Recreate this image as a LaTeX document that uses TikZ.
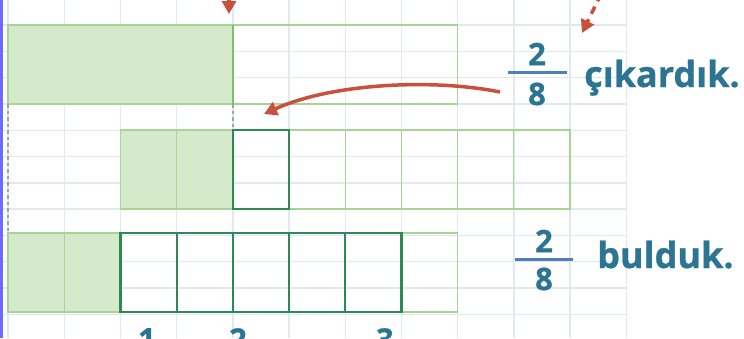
\documentclass[tikz,border=0pt]{standalone}
\usepackage{fontspec}
\setmainfont{Open Sans}[BoldFeatures={FakeBold=0.8}]
\usetikzlibrary{arrows.meta}
\definecolor{gridc}{HTML}{DFE9F2}
\definecolor{shade}{HTML}{D5EACB}
\definecolor{lgreen}{HTML}{A6D495}
\definecolor{mgreen}{HTML}{7CBF6C}
\definecolor{dgreen}{HTML}{2E8A55}
\definecolor{redc}{HTML}{C9503A}
\definecolor{tealc}{HTML}{2B7592}
\definecolor{barc}{HTML}{4F7FBF}
\definecolor{edgec}{HTML}{6B6BFF}
\definecolor{guidec}{HTML}{9AA89A}
\tikzset{
  cell/.style={draw=lgreen, line width=1.2pt, minimum width=56.2pt, minimum height=79pt,
    inner sep=0pt, outer sep=0pt, anchor=north west},
  halfbar/.style={cell, minimum width=224.8pt},
  shaded/.style={fill=shade},
  strong/.style={draw=dgreen, line width=2.2pt},
  guide/.style={draw=guidec, line width=2.2pt, dash pattern=on 3.5pt off 3pt},
  redarrow/.style={draw=redc, line width=3.5pt, -{Triangle[length=13pt,width=14pt]}},
  txt/.style={text=tealc, font=\fontsize{31}{31}\selectfont\bfseries, inner sep=0pt},
  word/.style={txt, font=\fontsize{36}{36}\selectfont\bfseries, anchor=base west},
  fracbar/.style={draw=barc, line width=3pt}
}
\begin{document}
\begin{tikzpicture}[x=1pt,y=-1pt]
\useasboundingbox (0,0) rectangle (744,338);
\clip (0,0) rectangle (744,338);
% grid
\foreach \i in {0,...,11} \draw[gridc, line width=1.4pt] ({8+56.2*\i},0) -- ({8+56.2*\i},338);
\foreach \j in {-1,...,12} \draw[gridc, line width=1.4pt] (3,{25+26.3*\j}) -- (626,{25+26.3*\j});
% left edge
\draw[edgec, line width=3pt] (1,0) -- (1,338);
% top bar
\node[halfbar, shaded] (tl) at (8,25) {};
\node[halfbar] (tr) at (232.8,25) {};
\draw[mgreen, line width=1.5pt] (tl.north east) -- (tl.south east);
% middle bar
\foreach \k in {0,1} \node[cell, shaded] (m\k) at ({120.4+56.2*\k},130) {};
\foreach \k in {3,...,7} \node[cell] (m\k) at ({120.4+56.2*\k},130) {};
\node[cell, strong] (m2) at ({120.4+56.2*2},130) {};
% bottom bar
\foreach \k in {0,1} \node[cell, shaded] (b\k) at ({8+56.2*\k},233) {};
\node[cell] (b7) at ({8+56.2*7},233) {};
\foreach \k in {2,...,6} \node[cell, strong] (b\k) at ({8+56.2*\k},233) {};
% guides
\draw[guide] (tl.south west) -- (b0.north west);
\draw[guide] (tl.south east) -- (m2.north west);
% arrows
\coordinate (a1s) at (229,-8);
\coordinate (a1e) at (229,14);
\draw[redarrow] (a1s) -- (a1e);
\coordinate (a2s) at (601,-6);
\coordinate (a2e) at (582,33);
\draw[redarrow, dash pattern=on 8pt off 6pt] (a2s) -- (a2e);
\coordinate (a3s) at (500,92);
\coordinate (a3e) at (264,114);
\draw[redarrow] (a3s) .. controls (430,78) and (330,84) .. (a3e);
% fractions top
\node[txt] (n1) at (537,54) {2};
\node[txt] (d1) at (537,94) {8};
\coordinate (f1l) at (508,72);
\coordinate (f1r) at (567,72);
\draw[fracbar] (f1l) -- (f1r);
\node[word] (t1) at (584,87) {çıkardık.};
% fractions bottom
\node[txt] (n2) at (544,241) {2};
\node[txt] (d2) at (544,279) {8};
\coordinate (f2l) at (515,259);
\coordinate (f2r) at (573,259);
\draw[fracbar] (f2l) -- (f2r);
\node[word] (t2) at (597,268) {bulduk.};
% bottom numbers (cut off at the lower edge, as in the reference)
\node[txt, anchor=north] (c1) at (147,328) {1};
\node[txt, anchor=north] (c2) at (238,328) {2};
\node[txt, anchor=north] (c3) at (385,328) {3};
\end{tikzpicture}
\end{document}
